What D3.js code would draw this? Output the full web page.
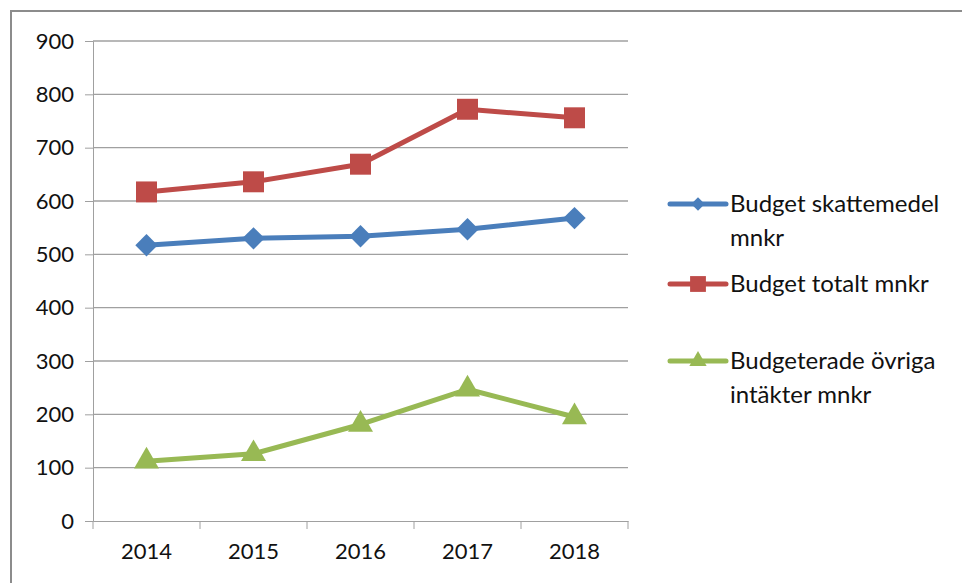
<!DOCTYPE html>
<html>
<head>
<meta charset="utf-8">
<script src="https://cdn.jsdelivr.net/npm/d3@7"></script>
<style>
  body { margin: 0; background: #fff; }
  text { font-family: Lato, "Open Sans", sans-serif; fill: #111; }
</style>
</head>
<body>
<div id="chart"></div>
<script>
const years = ["2014", "2015", "2016", "2017", "2018"];
const skattemedel = [517, 530, 534, 547, 568];
const totalt = [617, 636, 669, 772, 756];
const ovriga = [112, 126, 181, 247, 195];
const yTicks = [0, 100, 200, 300, 400, 500, 600, 700, 800, 900];

// diamond drawn as a square turned 45 degrees (Excel style)
const squareDiamond = {
    draw(context, size) {
        const r = Math.sqrt(size / 2);
        context.moveTo(0, -r);
        context.lineTo(r, 0);
        context.lineTo(0, r);
        context.lineTo(-r, 0);
        context.closePath();
    }
};

const series = [
    { name: ["Budget skattemedel", "mnkr"], values: skattemedel, color: "#4a7ebb", symbol: squareDiamond, size: 250, legendSize: 90 },
    { name: ["Budget totalt mnkr"], values: totalt, color: "#be4b48", symbol: d3.symbolSquare, size: 440, legendSize: 250 },
    { name: ["Budgeterade övriga", "intäkter mnkr"], values: ovriga, color: "#98b954", symbol: d3.symbolTriangle, size: 270, legendSize: 130 }
];

const W = 962, H = 583;
const margin = { top: 41, right: 334, bottom: 62, left: 93 };
const width = W - margin.left - margin.right;
const height = H - margin.top - margin.bottom;

const root = d3.select("#chart").append("svg")
    .attr("width", W)
    .attr("height", H);

// chart frame
root.append("rect")
    .attr("x", 11).attr("y", 11)
    .attr("width", W + 20).attr("height", H + 20)
    .attr("fill", "none")
    .attr("stroke", "#8c8c8c")
    .attr("stroke-width", 2);

const svg = root.append("g")
    .attr("transform", `translate(${margin.left},${margin.top})`);

const x = d3.scaleBand().domain(years).range([0, width]);
const y = d3.scaleLinear().domain([0, 900]).range([height, 0]);

// gridlines + y axis
const yAxis = svg.append("g")
    .call(d3.axisLeft(y).tickValues(yTicks).tickSize(8).tickPadding(11));
yAxis.select(".domain").attr("stroke", "#a0a0a0");
yAxis.selectAll(".tick line").attr("stroke", "#a0a0a0");
yAxis.selectAll(".tick text").attr("font-size", 22).attr("fill", "#111");

svg.append("g")
    .selectAll("line")
    .data(yTicks.filter(d => d > 0))
    .join("line")
    .attr("x1", 0).attr("x2", width)
    .attr("y1", d => y(d)).attr("y2", d => y(d))
    .attr("stroke", "#a0a0a0")
    .attr("stroke-width", 1.3);

// x axis with ticks on category boundaries
const xAxis = svg.append("g")
    .attr("transform", `translate(0,${height})`)
    .call(d3.axisBottom(x).tickSize(0).tickPadding(22));
xAxis.select(".domain").attr("stroke", "#a0a0a0");
xAxis.selectAll(".tick text").attr("font-size", 22).attr("fill", "#111");
svg.append("g")
    .selectAll("line")
    .data(d3.range(years.length + 1))
    .join("line")
    .attr("x1", i => i * x.bandwidth()).attr("x2", i => i * x.bandwidth())
    .attr("y1", height).attr("y2", height + 8)
    .attr("stroke", "#a0a0a0");

const cx = d => x(d) + x.bandwidth() / 2;

const line = d3.line()
    .x((d, i) => cx(years[i]))
    .y(d => y(d));

series.forEach(s => {
    svg.append("path")
        .datum(s.values)
        .attr("fill", "none")
        .attr("stroke", s.color)
        .attr("stroke-width", 5)
        .attr("stroke-linejoin", "round")
        .attr("d", line);

    svg.append("g")
        .selectAll("path")
        .data(s.values)
        .join("path")
        .attr("transform", (d, i) => `translate(${cx(years[i])},${y(d)})`)
        .attr("d", d3.symbol().type(s.symbol).size(s.size))
        .attr("fill", s.color);
});

// legend
const legendY = [204, 284, 361];
const legend = root.append("g");
series.forEach((s, i) => {
    const g = legend.append("g").attr("transform", `translate(670,${legendY[i]})`);
    g.append("line")
        .attr("x1", 0).attr("x2", 56)
        .attr("stroke", s.color)
        .attr("stroke-width", 5)
        .attr("stroke-linecap", "round");
    g.append("path")
        .attr("transform", "translate(28,0)")
        .attr("d", d3.symbol().type(s.symbol).size(s.legendSize))
        .attr("fill", s.color);
    s.name.forEach((t, j) => {
        g.append("text")
            .attr("x", 60)
            .attr("y", j * 34)
            .attr("dy", "0.35em")
            .attr("font-size", 24)
            .text(t);
    });
});
</script>
</body>
</html>
